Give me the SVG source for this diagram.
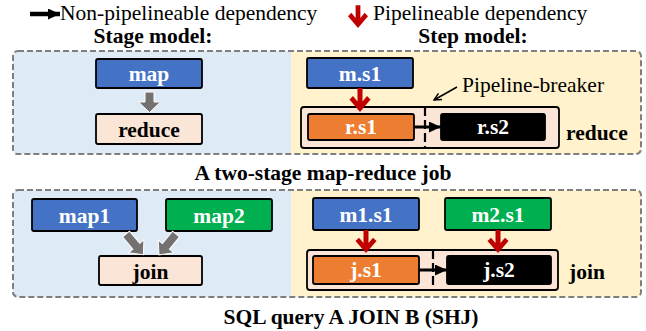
<svg xmlns="http://www.w3.org/2000/svg" width="646" height="331" viewBox="0 0 646 331">
<style>
text{font-family:'Liberation Serif','Times New Roman',serif;font-size:21.5px;fill:#000}
.b{font-weight:bold}
.w{fill:#fff;font-weight:bold}
.m{text-anchor:middle}
.box{stroke:#000;stroke-width:1.8}
.blue{fill:#4472C4}.green{fill:#00B050}.orange{fill:#ED7D31}.pink{fill:#FBE5D6}.blk{fill:#000}
.frame{fill:none;stroke:#7F7F7F;stroke-width:2;stroke-dasharray:6 3}
.gray{fill:#767171;stroke:#fff;stroke-width:1}
.red{fill:#C00000}
.dash{stroke:#000;stroke-width:2.2;stroke-dasharray:9 4}
</style>
<defs>
<path id="redArrow" d="M-2.5,-24 H2.5 V-10.5 L7,-16 L10.5,-12.5 L0,0 L-10.5,-12.5 L-7,-16 L-2.5,-10.5 Z"/>
<path id="grayArrow" d="M0,-4.5 H16 V-10 L27,0 L16,10 V4.5 H0 Z"/>
<marker id="blkHead" viewBox="0 0 10 10" refX="10" refY="5" markerWidth="12" markerHeight="11" markerUnits="userSpaceOnUse" orient="auto" preserveAspectRatio="none"><path d="M0,0 L10,5 L0,10 Z" fill="#000"/></marker>
<marker id="openHead" viewBox="0 0 10 10" refX="9" refY="5" markerWidth="9" markerHeight="9" markerUnits="userSpaceOnUse" orient="auto"><path d="M1,1 L9,5 L1,9" fill="none" stroke="#000" stroke-width="1.6"/></marker>
</defs>

<!-- legend -->
<g id="legend">
<line x1="30" y1="14" x2="60" y2="14" stroke="#000" stroke-width="4.5" marker-end="url(#blkHead)"/>
<text x="60" y="20">Non-pipelineable dependency</text>
<use href="#redArrow" class="red" transform="translate(358,28) scale(0.95)"/>
<text x="373" y="20">Pipelineable dependency</text>
<text class="b m" x="153" y="43">Stage model:</text>
<text class="b m" x="473" y="43">Step model:</text>
</g>

<!-- panel backgrounds -->
<g id="panel-top">
<rect x="13" y="51" width="628" height="103" rx="5" fill="#FFF2CC"/>
<path d="M18,51 H291 V154 H18 A5,5 0 0 1 13,149 V56 A5,5 0 0 1 18,51 Z" fill="#DEEBF7"/>
<rect class="frame" x="13" y="51" width="628" height="103" rx="5"/>
</g>
<g id="panel-bottom">
<rect x="13" y="190" width="628" height="107" rx="5" fill="#FFF2CC"/>
<path d="M18,190 H291 V297 H18 A5,5 0 0 1 13,292 V195 A5,5 0 0 1 18,190 Z" fill="#DEEBF7"/>
<rect class="frame" x="13" y="190" width="628" height="107" rx="5"/>
</g>

<!-- containers -->
<g id="reduce-container">
<rect class="box pink" x="301" y="107" width="258" height="41" rx="3"/>
<text class="b" x="566" y="140">reduce</text>
</g>
<g id="join-container">
<rect class="box pink" x="307" y="250" width="251" height="40" rx="3"/>
<text class="b" x="569" y="279">join</text>
</g>

<!-- nodes: top -->
<g id="map"><rect class="box blue" x="96" y="59" width="106" height="29" rx="2"/><text class="w m" x="149" y="81">map</text></g>
<g id="reduce"><rect class="box pink" x="96" y="114" width="106" height="30" rx="2"/><text class="b m" x="149" y="137">reduce</text></g>
<g id="m-s1"><rect class="box blue" x="307" y="58" width="106" height="30" rx="2"/><text class="w m" x="360" y="81">m.s1</text></g>
<g id="r-s1"><rect class="box orange" x="308" y="114" width="106" height="26" rx="2"/><text class="w m" x="361" y="134">r.s1</text></g>
<g id="r-s2"><rect class="box blk" x="441" y="114" width="104" height="26" rx="2"/><text class="w m" x="493" y="134">r.s2</text></g>

<!-- nodes: bottom -->
<g id="map1"><rect class="box blue" x="32" y="199" width="105" height="32" rx="2"/><text class="w m" x="84.5" y="223">map1</text></g>
<g id="map2"><rect class="box green" x="166" y="199" width="106" height="32" rx="2"/><text class="w m" x="219" y="223">map2</text></g>
<g id="join"><rect class="box pink" x="99" y="256" width="103" height="29" rx="2"/><text class="b m" x="150.5" y="279">join</text></g>
<g id="m1-s1"><rect class="box blue" x="313" y="198" width="106" height="32" rx="2"/><text class="w m" x="366" y="222">m1.s1</text></g>
<g id="m2-s1"><rect class="box green" x="445" y="198" width="106" height="32" rx="2"/><text class="w m" x="498" y="222">m2.s1</text></g>
<g id="j-s1"><rect class="box orange" x="313" y="256" width="106" height="28" rx="2"/><text class="w m" x="366" y="277">j.s1</text></g>
<g id="j-s2"><rect class="box blk" x="447" y="256" width="104" height="28" rx="2"/><text class="w m" x="499" y="277">j.s2</text></g>

<!-- connectors -->
<g id="connectors">
<path class="gray" d="M145,92 H154 V102 H160.5 L149.5,112.5 L138.5,102 H145 Z"/>
<use href="#grayArrow" class="gray" transform="translate(126,234) rotate(50)"/>
<use href="#grayArrow" class="gray" transform="translate(176,234) rotate(129)"/>
<use href="#redArrow" class="red" transform="translate(360,112)"/>
<use href="#redArrow" class="red" transform="translate(366,253) scale(1,0.96)"/>
<use href="#redArrow" class="red" transform="translate(498,253) scale(1,0.96)"/>
<line x1="414" y1="127" x2="441" y2="127" stroke="#000" stroke-width="3" marker-end="url(#blkHead)"/>
<line x1="419" y1="270" x2="447" y2="270" stroke="#000" stroke-width="3" marker-end="url(#blkHead)"/>
<line class="dash" x1="425" y1="107" x2="425" y2="148"/>
<line class="dash" x1="433" y1="250" x2="433" y2="290"/>
<line x1="457" y1="87" x2="434" y2="100" stroke="#000" stroke-width="1.6" marker-end="url(#openHead)"/>
</g>
<text x="462" y="92">Pipeline-breaker</text>

<!-- captions -->
<text class="b m" x="323" y="180">A two-stage map-reduce job</text>
<text class="b m" x="351" y="324">SQL query A JOIN B (SHJ)</text>
</svg>
